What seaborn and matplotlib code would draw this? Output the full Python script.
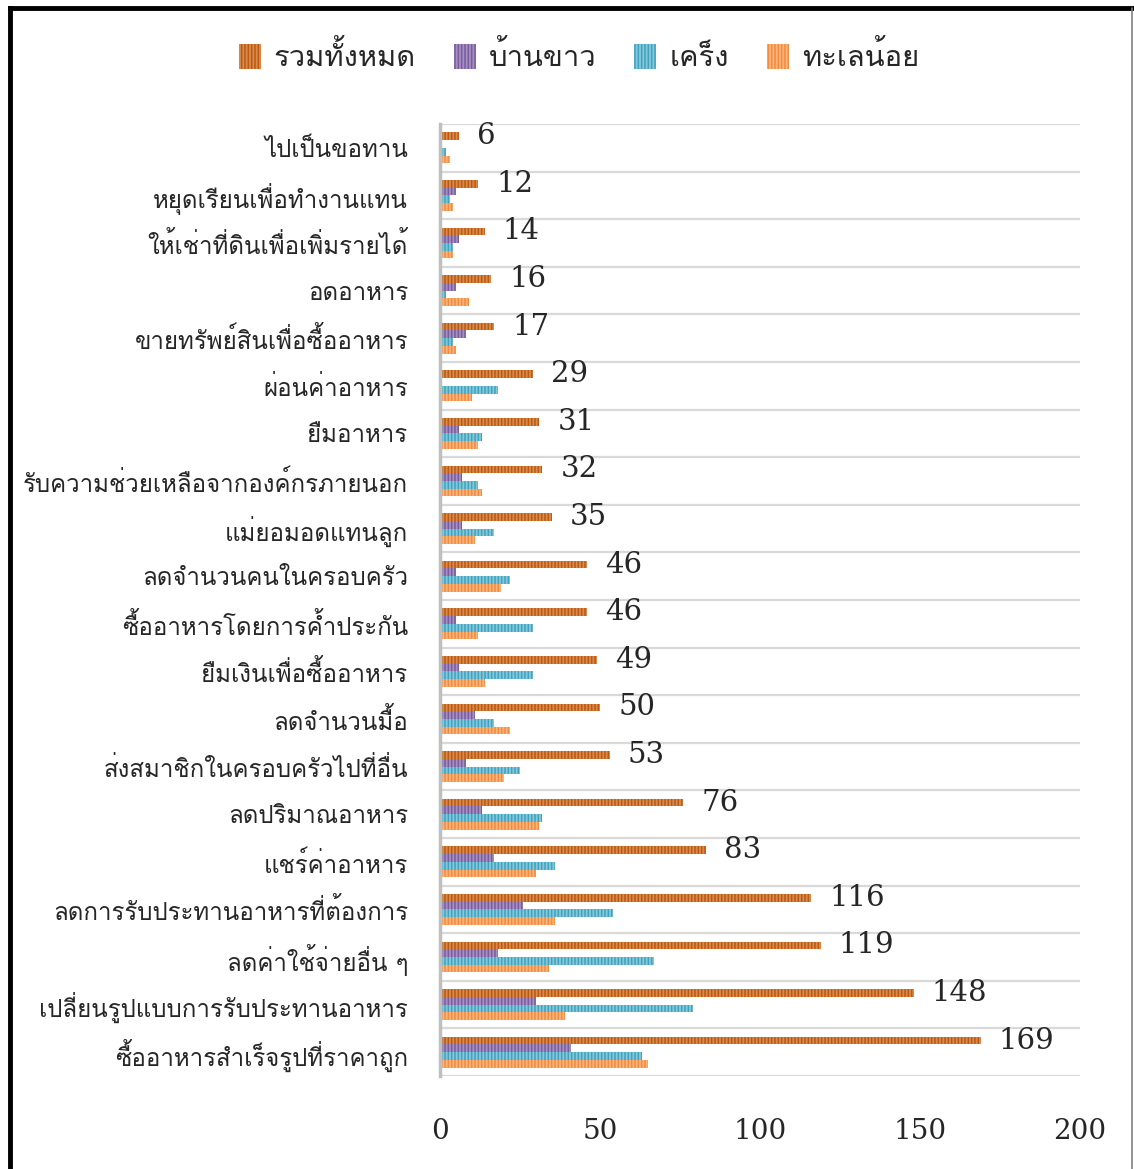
import numpy as np
import pandas as pd
import matplotlib
matplotlib.use('Agg')
import matplotlib.pyplot as plt
import seaborn as sns

# ข้อมูล (อ่านจากภาพ) เรียงจากบนลงล่าง
categories = ['ไปเป็นขอทาน', 'หยุดเรียนเพื่อทำงานแทน', 'ให้เช่าที่ดินเพื่อเพิ่มรายได้', 'อดอาหาร',
              'ขายทรัพย์สินเพื่อซื้ออาหาร', 'ผ่อนค่าอาหาร', 'ยืมอาหาร',
              'รับความช่วยเหลือจากองค์กรภายนอก', 'แม่ยอมอดแทนลูก', 'ลดจำนวนคนในครอบครัว',
              'ซื้ออาหารโดยการค้ำประกัน', 'ยืมเงินเพื่อซื้ออาหาร', 'ลดจำนวนมื้อ',
              'ส่งสมาชิกในครอบครัวไปที่อื่น', 'ลดปริมาณอาหาร', 'แชร์ค่าอาหาร',
              'ลดการรับประทานอาหารที่ต้องการ', 'ลดค่าใช้จ่ายอื่น ๆ',
              'เปลี่ยนรูปแบบการรับประทานอาหาร', 'ซื้ออาหารสำเร็จรูปที่ราคาถูก']
total = [6, 12, 14, 16, 17, 29, 31, 32, 35, 46, 46, 49, 50, 53, 76, 83, 116, 119, 148, 169]
ban_khao = [0, 5, 6, 5, 8, 0, 6, 7, 7, 5, 5, 6, 11, 8, 13, 17, 26, 18, 30, 41]
khreng = [2, 3, 4, 2, 4, 18, 13, 12, 17, 22, 29, 29, 17, 25, 32, 36, 54, 67, 79, 63]
thale_noi = [3, 4, 4, 9, 5, 10, 12, 13, 11, 19, 12, 14, 22, 20, 31, 30, 36, 34, 39, 65]
series_names = ['รวมทั้งหมด', 'บ้านขาว', 'เคร็ง', 'ทะเลน้อย']
x_ticks = [0, 50, 100, 150, 200]

dark_colors = ['#B85A12', '#7A5C9E', '#3FA3BE', '#F38B3C']
light_colors = ['#DC8A4C', '#A590C2', '#86C8DB', '#FBB57E']

sns.set_style('white')
# Loma มีอักษรไทยและวางวรรณยุกต์ได้ดีโดยไม่ต้อง shaping
plt.rcParams['font.family'] = ['Loma', 'DejaVu Sans']
plt.rcParams['hatch.linewidth'] = 1.1

df = pd.DataFrame({
    'category': categories * 4,
    'series': sum([[s] * len(categories) for s in series_names], []),
    'value': total + ban_khao + khreng + thale_noi,
})

fig = plt.figure(figsize=(11.34, 11.69), dpi=100)
ax = fig.add_axes([440 / 1134, 1 - 1076 / 1169, 640 / 1134, 952 / 1169])

sns.barplot(data=df, x='value', y='category', hue='series', order=categories,
            hue_order=series_names, orient='h', width=0.65, saturation=1,
            palette=light_colors, legend=False, ax=ax)

# ลายเส้นตั้งแบบ Excel
for cont, dc, lc in zip(ax.containers, dark_colors, light_colors):
    for p in cont:
        p.set_facecolor(lc)
        p.set_edgecolor(dc)
        p.set_hatch('|||||')
        p.set_linewidth(0)

# ป้ายค่าของรวมทั้งหมด
ax.bar_label(ax.containers[0], padding=13, fontsize=21, family='DejaVu Serif')

ax.set_xlim(0, 200)
ax.set_ylim(len(categories) - 0.5, -0.5)
ax.set_xticks(x_ticks)
ax.set_xticklabels([str(t) for t in x_ticks], fontsize=20, family='DejaVu Serif')
ax.tick_params(axis='x', length=0, pad=30)
ax.tick_params(axis='y', length=0, pad=23, labelsize=17.3)
ax.set_yticks(np.arange(-0.5, len(categories), 1), minor=True)
ax.grid(False)
ax.grid(which='minor', axis='y', color='#D9D9D9', linewidth=1.6)
ax.tick_params(which='minor', length=0)
ax.set_xlabel('')
ax.set_ylabel('')
for s in ['top', 'right', 'bottom']:
    ax.spines[s].set_visible(False)
ax.spines['left'].set_color('#BFBFBF')
ax.spines['left'].set_linewidth(2.5)

fig.legend(ax.containers, series_names, loc='center', bbox_to_anchor=(579 / 1134, 1 - 57 / 1169),
           ncol=4, frameon=False, fontsize=21, handlelength=0.75, handleheight=0.9,
           columnspacing=1.3, handletextpad=0.45)

# กรอบรูป
fig.add_artist(plt.Line2D([9.5 / 1134, 9.5 / 1134], [0, 1 - 8 / 1169], color='black', lw=3.5,
                          transform=fig.transFigure, solid_capstyle='projecting'))
fig.add_artist(plt.Line2D([9.5 / 1134, 1132 / 1134], [1 - 8 / 1169, 1 - 8 / 1169], color='black', lw=3.5,
                          transform=fig.transFigure, solid_capstyle='projecting'))
fig.add_artist(plt.Line2D([1132 / 1134, 1132 / 1134], [0, 1 - 8 / 1169], color='#808080', lw=1.2,
                          transform=fig.transFigure))

fig.savefig('out.png', dpi=100)
